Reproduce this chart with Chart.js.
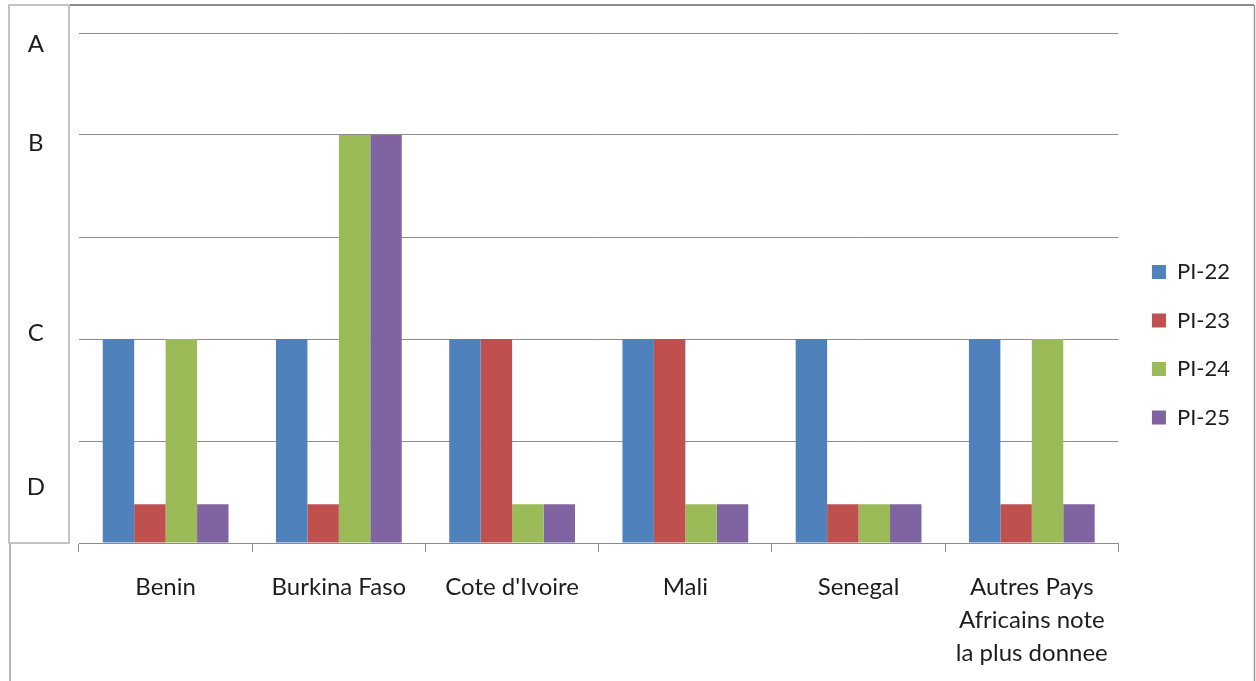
<!DOCTYPE html>
<html>
<head>
<meta charset="utf-8">
<script src="https://cdn.jsdelivr.net/npm/chart.js@4/dist/chart.umd.min.js"></script>
<style>
  html, body { margin: 0; padding: 0; background: #fff; }
  #wrap { width: 1256px; height: 681px; position: relative; }
</style>
</head>
<body>
<div id="wrap"><canvas id="c" width="1256" height="681"></canvas></div>
<script>
const categories = ['Benin', 'Burkina Faso', "Cote d'Ivoire", 'Mali', 'Senegal', ['Autres Pays', 'Africains note', 'la plus donnee']];
const seriesNames = ['PI-22', 'PI-23', 'PI-24', 'PI-25'];
const pi22 = [2, 2, 2, 2, 2, 2];
const pi23 = [0.38, 0.38, 2, 2, 0.38, 0.38];
const pi24 = [2, 4, 0.38, 0.38, 0.38, 2];
const pi25 = [0.38, 4, 0.38, 0.38, 0.38, 0.38];
const seriesColors = ['#4F81BD', '#C0504D', '#9BBB59', '#8064A2'];
const gradeLabels = ['A', 'B', 'C', 'D'];
const gradeTickValues = [4.89, 3.92, 2.06, 0.55];

const FONT = 'Lato, "Open Sans", sans-serif';
const TXT = '#1e1e1e';

const framePlugin = {
  id: 'frame',
  beforeDraw(chart) {
    const ctx = chart.ctx;
    ctx.save();
    ctx.fillStyle = '#fff';
    ctx.fillRect(0, 0, chart.width, chart.height);
    ctx.strokeStyle = '#8c8c8c';
    ctx.lineWidth = 2;
    ctx.beginPath();
    ctx.moveTo(10, 5); ctx.lineTo(1254, 5);
    ctx.stroke();
    ctx.strokeStyle = '#9a9a9a';
    ctx.lineWidth = 1.5;
    ctx.beginPath();
    ctx.moveTo(10, 5); ctx.lineTo(10, 681);
    ctx.moveTo(1254.5, 5); ctx.lineTo(1254.5, 681);
    ctx.stroke();
    ctx.fillStyle = '#fff';
    ctx.fillRect(8, 4, 62, 539);
    ctx.strokeStyle = '#c4c4c4';
    ctx.lineWidth = 2;
    ctx.strokeRect(9, 5, 60, 538);
    ctx.restore();
  }
};

const data = {
  labels: categories,
  datasets: [pi22, pi23, pi24, pi25].map((vals, i) => ({
    label: seriesNames[i],
    data: vals,
    backgroundColor: seriesColors[i],
    borderWidth: 0,
    categoryPercentage: 0.726,
    barPercentage: 1.0
  }))
};

new Chart(document.getElementById('c'), {
  type: 'bar',
  data,
  plugins: [framePlugin],
  options: {
    responsive: false,
    animation: false,
    devicePixelRatio: 1,
    layout: { padding: { top: 19.5, bottom: 11, left: 0, right: 16 } },
    plugins: {
      tooltip: { enabled: false },
      legend: {
        position: 'right',
        labels: {
          boxWidth: 14,
          boxHeight: 14,
          padding: 26.5,
          color: TXT,
          font: { family: FONT, size: 22 }
        }
      }
    },
    scales: {
      x: {
        grid: { drawOnChartArea: false, drawTicks: true, tickLength: 9, color: '#8c8c8c', offset: true },
        border: { display: true, color: '#8c8c8c', width: 1 },
        ticks: { color: TXT, font: { family: FONT, size: 24, lineHeight: 1.375 }, padding: 19, maxRotation: 0, autoSkip: false },
        afterFit(s) { s.height = 127; s.paddingLeft = 0; s.paddingRight = 0; }
      },
      y: {
        min: 0, max: 5,
        weight: 0,
        ticks: { stepSize: 1, display: false },
        grid: { color: '#8c8c8c', drawTicks: false },
        border: { display: false },
        afterFit(s) { s.width = 0; s.paddingTop = 33; s.paddingBottom = 0; }
      },
      y2: {
        position: 'left',
        weight: 1,
        min: 0, max: 5,
        afterBuildTicks(s) { s.ticks = gradeTickValues.map(v => ({ value: v })); },
        ticks: {
          callback: (v, i) => gradeLabels[i],
          color: TXT,
          font: { family: FONT, size: 24 },
          crossAlign: 'center',
          padding: 34
        },
        grid: { display: false, drawTicks: false },
        border: { display: false },
        afterFit(s) { s.width = 79; s.paddingTop = 33; s.paddingBottom = 0; }
      },
      yGap: {
        position: 'right',
        min: 0, max: 5,
        ticks: { display: false },
        grid: { display: false, drawTicks: false },
        border: { display: false },
        afterFit(s) { s.width = 7; s.paddingTop = 33; s.paddingBottom = 0; }
      }
    }
  }
});
</script>
</body>
</html>
